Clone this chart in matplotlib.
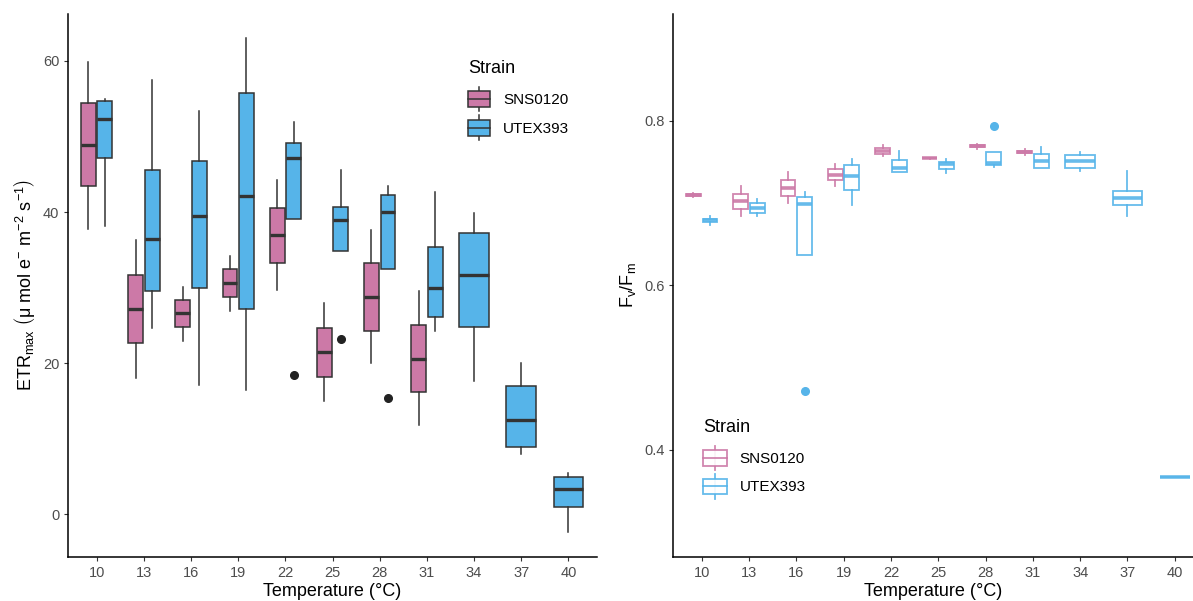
import numpy as np
import matplotlib
matplotlib.use("Agg")
import matplotlib.pyplot as plt
from matplotlib.patches import Rectangle, Patch
from matplotlib.lines import Line2D
from matplotlib.legend_handler import HandlerBase

plt.rcParams['font.family'] = ['Liberation Sans', 'DejaVu Sans']
plt.rcParams['mathtext.fontset'] = 'custom'
plt.rcParams['mathtext.rm'] = 'Liberation Sans'
plt.rcParams['mathtext.it'] = 'Liberation Sans:italic'

# ---- data ----
temps = [10, 13, 16, 19, 22, 25, 28, 31, 34, 37, 40]
strains = ['SNS0120', 'UTEX393']
colors = {'SNS0120': '#CC79A7', 'UTEX393': '#56B4E9'}

# ETRmax, SNS0120 only measured 10..31
etr_sns_lo = [37.8, 18.1, 23.0, 26.9, 29.7, 15.0, 20.0, 11.8]
etr_sns_q1 = [43.4, 22.7, 24.8, 28.8, 33.3, 18.2, 24.3, 16.2]
etr_sns_med = [48.9, 27.2, 26.6, 30.6, 37.0, 21.5, 28.8, 20.6]
etr_sns_q3 = [54.4, 31.7, 28.3, 32.4, 40.6, 24.7, 33.2, 25.1]
etr_sns_hi = [59.9, 36.3, 30.1, 34.2, 44.2, 28.0, 37.6, 29.5]
etr_sns_out = {}

etr_utex_lo = [38.1, 24.6, 17.1, 16.4, 39.1, 34.9, 32.5, 24.3, 17.6, 8.0, -2.3]
etr_utex_q1 = [47.1, 29.5, 30.0, 27.2, 39.1, 34.9, 32.5, 26.1, 24.8, 8.9, 1.0]
etr_utex_med = [52.3, 36.4, 39.5, 42.1, 47.1, 38.9, 40.0, 30.0, 31.7, 12.5, 3.4]
etr_utex_q3 = [54.7, 45.5, 46.8, 55.7, 49.1, 40.7, 42.3, 35.4, 37.2, 17.0, 4.9]
etr_utex_hi = [54.9, 57.5, 53.4, 63.0, 51.9, 45.6, 43.4, 42.6, 39.9, 20.0, 5.5]
etr_utex_out = {22: [18.5], 25: [23.2], 28: [15.4]}

# Fv/Fm
fv_sns_lo = [0.708, 0.684, 0.700, 0.721, 0.7575, 0.754, 0.766, 0.759]
fv_sns_q1 = [0.709, 0.6926, 0.7084, 0.7279, 0.7603, 0.7543, 0.768, 0.761]
fv_sns_med = [0.710, 0.7024, 0.719, 0.7348, 0.7639, 0.7546, 0.7692, 0.7623]
fv_sns_q3 = [0.711, 0.7117, 0.7287, 0.7412, 0.7676, 0.7549, 0.7705, 0.7635]
fv_sns_hi = [0.7125, 0.7206, 0.7376, 0.7478, 0.7704, 0.755, 0.772, 0.7655]
fv_sns_out = {}

fv_utex_lo = [0.674, 0.6838, 0.6372, 0.698, 0.7376, 0.7368, 0.7445, 0.7429, 0.7396, 0.6846, 0.367]
fv_utex_q1 = [0.677, 0.6886, 0.6372, 0.7162, 0.7376, 0.742, 0.7466, 0.7429, 0.7429, 0.6983, 0.367]
fv_utex_med = [0.679, 0.6945, 0.6987, 0.7332, 0.7429, 0.7475, 0.749, 0.751, 0.7518, 0.706, 0.367]
fv_utex_q3 = [0.681, 0.700, 0.7077, 0.7466, 0.7526, 0.750, 0.7627, 0.760, 0.7591, 0.7153, 0.367]
fv_utex_hi = [0.684, 0.7048, 0.7133, 0.7534, 0.7639, 0.7534, 0.7627, 0.7688, 0.7627, 0.7396, 0.367]
fv_utex_out = {16: [0.472], 28: [0.7935]}


def stats_list(lo, q1, med, q3, hi, out):
    return [dict(whislo=a, q1=b, med=c, q3=d, whishi=e, fliers=out.get(temps[i], []))
            for i, (a, b, c, d, e) in enumerate(zip(lo, q1, med, q3, hi))]


etr = {'SNS0120': stats_list(etr_sns_lo, etr_sns_q1, etr_sns_med, etr_sns_q3, etr_sns_hi, etr_sns_out),
       'UTEX393': stats_list(etr_utex_lo, etr_utex_q1, etr_utex_med, etr_utex_q3, etr_utex_hi, etr_utex_out)}
fv = {'SNS0120': stats_list(fv_sns_lo, fv_sns_q1, fv_sns_med, fv_sns_q3, fv_sns_hi, fv_sns_out),
      'UTEX393': stats_list(fv_utex_lo, fv_utex_q1, fv_utex_med, fv_utex_q3, fv_utex_hi, fv_utex_out)}

DODGE = 0.7
PAD = 0.9


def positions(data):
    n_sns = len(data['SNS0120'])
    pos = {'SNS0120': [], 'UTEX393': []}
    wid = {'SNS0120': [], 'UTEX393': []}
    for i in range(len(temps)):
        if i < n_sns:
            pos['SNS0120'].append(i - DODGE / 4)
            wid['SNS0120'].append(DODGE / 2 * PAD)
            pos['UTEX393'].append(i + DODGE / 4)
            wid['UTEX393'].append(DODGE / 2 * PAD)
        else:
            pos['UTEX393'].append(i)
            wid['UTEX393'].append(DODGE * PAD)
    return pos, wid


class BoxKey(HandlerBase):
    # ggplot-like boxplot legend key: whisker, box, median
    def __init__(self, face, edge, lw, alpha=1.0):
        super().__init__()
        self.face, self.edge, self.lw, self.alpha = face, edge, lw, alpha

    def create_artists(self, legend, orig_handle, xdescent, ydescent,
                       width, height, fontsize, trans):
        x0, y0 = -xdescent, -ydescent
        cx = x0 + width / 2
        cy = y0 + height / 2
        bh = fontsize * 1.03
        wh = fontsize * 1.6
        wl = Line2D([cx, cx], [cy - wh / 2, cy + wh / 2], color=self.edge, lw=self.lw,
                    alpha=self.alpha, transform=trans)
        rect = Rectangle((x0, cy - bh / 2), width, bh, facecolor=self.face, edgecolor=self.edge,
                         lw=self.lw, alpha=self.alpha, transform=trans)
        med = Line2D([x0, x0 + width], [cy, cy], color=self.edge, lw=self.lw,
                     alpha=self.alpha, transform=trans)
        return [wl, rect, med]


def style_axes(ax, ylim, yticks, ylabel, xright):
    ax.set_xlim(-0.6, xright)
    ax.set_ylim(*ylim)
    ax.set_xticks(range(len(temps)))
    ax.set_xticklabels([str(t) for t in temps])
    ax.set_yticks(yticks)
    for s in ['top', 'right']:
        ax.spines[s].set_visible(False)
    for s in ['left', 'bottom']:
        ax.spines[s].set_linewidth(1.1)
    ax.tick_params(length=3, width=0.8, color='#333333', labelcolor='#4D4D4D', labelsize=10.5)
    ax.set_xlabel('Temperature (°C)', fontsize=13, labelpad=2)
    ax.set_ylabel(ylabel, fontsize=13, labelpad=4)


def add_legend(ax, anchor, face_of, edge_of, lw, alpha, hlen):
    hs = [Patch(), Patch()]
    leg = ax.legend(hs, strains, loc='upper left', bbox_to_anchor=anchor,
                    title='Strain', frameon=False, fontsize=11, title_fontsize=13,
                    handlelength=hlen, handleheight=1.6, labelspacing=0.58, handletextpad=0.85,
                    borderpad=0, borderaxespad=0,
                    handler_map={hs[i]: BoxKey(face_of(s), edge_of(s), lw, alpha)
                                 for i, s in enumerate(strains)})
    leg._legend_box.align = 'left'
    leg._legend_box.sep = 8.8
    return leg


fig = plt.figure(figsize=(11.93, 6.01), dpi=100)
ax1 = fig.add_axes([0.0573, 0.0737, 0.4429, 0.903])
ax2 = fig.add_axes([0.5644, 0.0737, 0.4356, 0.903])

# ---- left: ETRmax, filled boxes ----
pos, wid = positions(etr)
for s in strains:
    ax1.bxp(etr[s], positions=pos[s], widths=wid[s], patch_artist=True, showcaps=False,
            manage_ticks=False,
            boxprops=dict(facecolor=colors[s], edgecolor='#333333', linewidth=1.1),
            whiskerprops=dict(color='#333333', linewidth=1.1),
            medianprops=dict(color='#333333', linewidth=2.4, solid_capstyle='butt'),
            flierprops=dict(marker='o', markerfacecolor='#222222', markeredgecolor='#222222',
                            markersize=5.5, linestyle='none'))
style_axes(ax1, (-5.6, 66.2), [0, 20, 40, 60],
           r'$\mathrm{ETR_{max}\ \left(\mu\ mol\ e^{-}\ m^{-2}\ s^{-1}\right)}$', 10.6)
add_legend(ax1, (0.756, 0.915), lambda s: colors[s], lambda s: '#333333', 1.1, 1.0, 1.45)

# ---- right: Fv/Fm, outline boxes ----
pos, wid = positions(fv)
for s in strains:
    c = colors[s]
    ax2.bxp(fv[s], positions=pos[s], widths=wid[s], patch_artist=True, showcaps=False,
            manage_ticks=False,
            boxprops=dict(facecolor='white', edgecolor=c, linewidth=1.3, alpha=0.9),
            whiskerprops=dict(color=c, linewidth=1.3, alpha=0.9),
            medianprops=dict(color=c, linewidth=2.6, solid_capstyle='butt', alpha=0.9),
            flierprops=dict(marker='o', markerfacecolor=c, markeredgecolor=c,
                            markersize=5.5, linestyle='none'))
style_axes(ax2, (0.27, 0.93), [0.4, 0.6, 0.8], r'$\mathrm{F_v/F_m}$',
           (1193 - 701.7) / 47.3)
add_legend(ax2, (0.057, 0.254), lambda s: 'white', lambda s: colors[s], 1.3, 0.9, 1.55)

fig.savefig('out.png', dpi=100)
